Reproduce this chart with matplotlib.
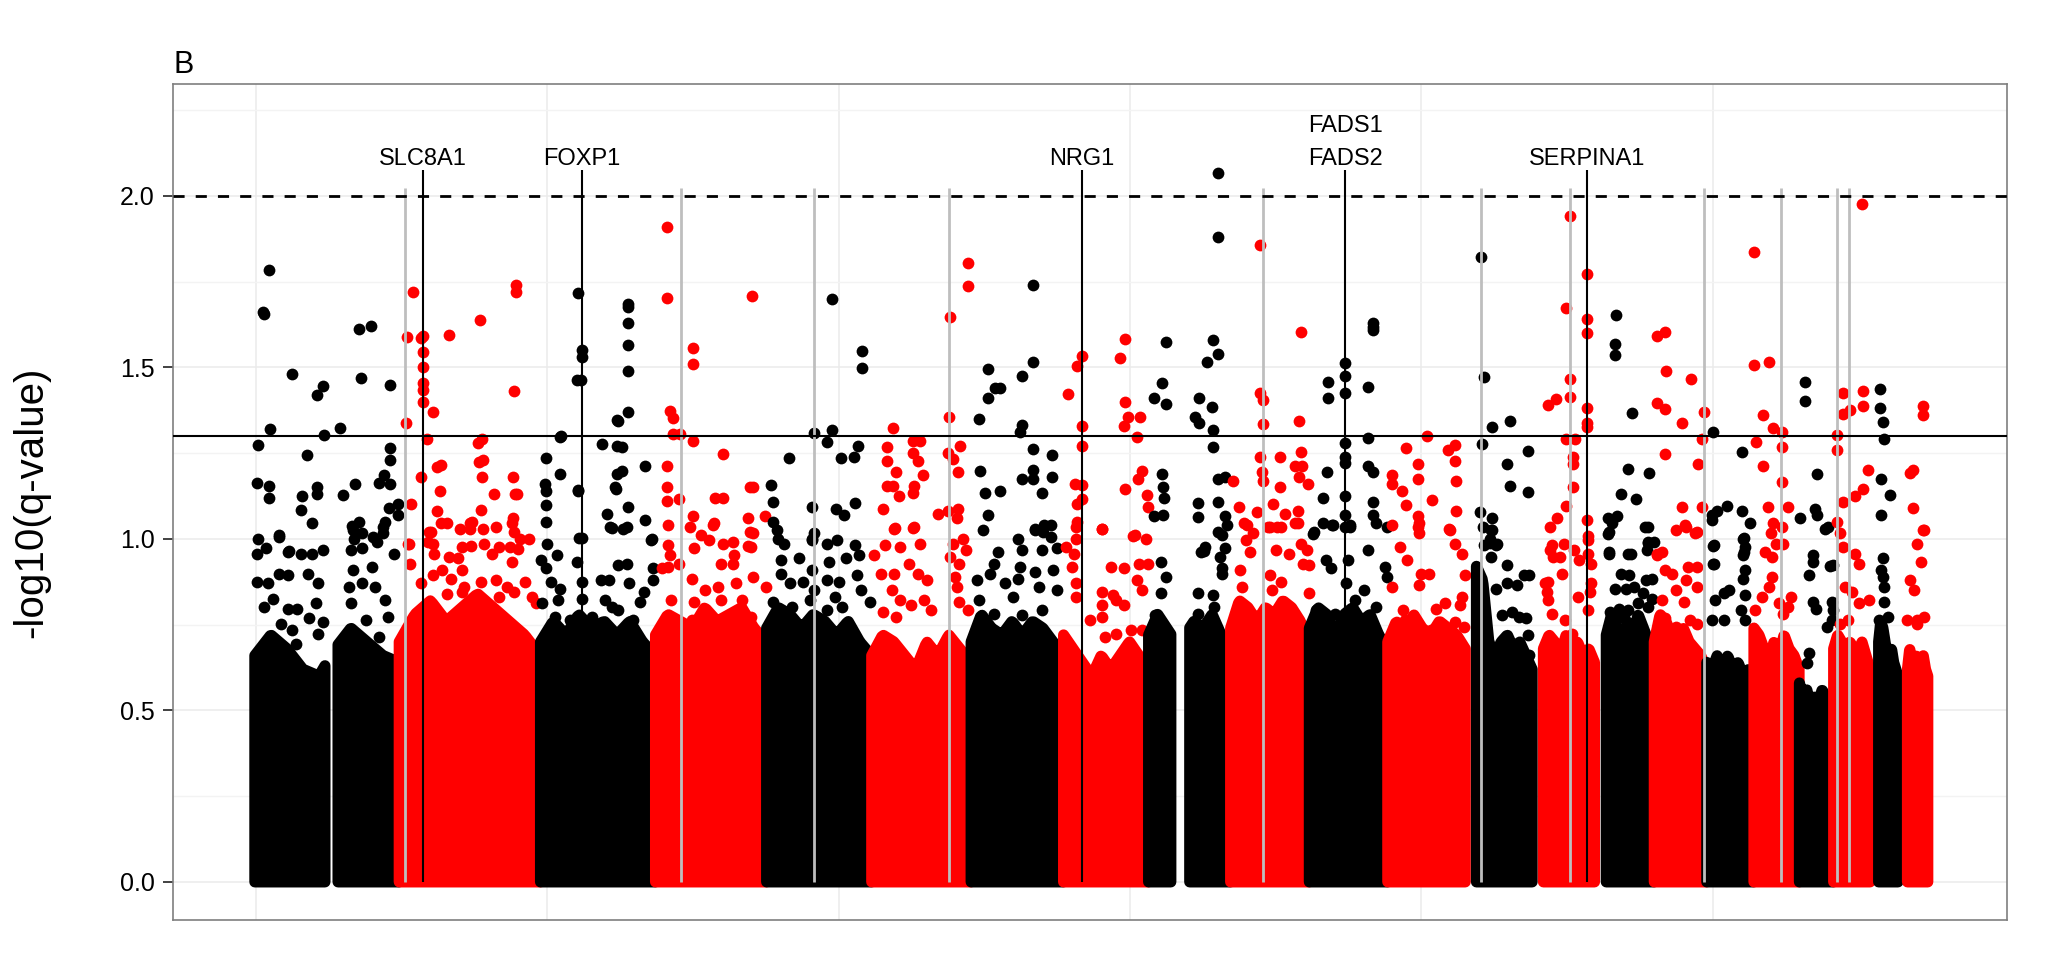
import numpy as np
import matplotlib
matplotlib.use("Agg")
import matplotlib.pyplot as plt

plt.rcParams['font.family'] = ['Liberation Sans', 'DejaVu Sans']

# chromosome lengths (Mb) and first SNP position
chrom_len = [249.25, 243.20, 198.02, 191.15, 180.92, 171.12, 159.14, 146.36, 141.21, 135.53, 135.01,
             133.85, 115.17, 107.35, 102.53, 90.35, 81.20, 78.08, 59.13, 63.03, 48.13, 51.30]
first_snp = [0.8, 0.1, 0.1, 0.1, 0.2, 0.2, 0.2, 0.2, 0.2, 0.2, 0.2,
             0.2, 19.0, 19.1, 20.0, 0.1, 0.1, 0.1, 0.3, 0.1, 14.5, 16.0]
gap_chrom = [1, 9]
gap_from = [121.5, 38.5]
gap_to = [144.0, 71.0]

# height of the dense bulk of points along each chromosome
core_1 = [0.66, 0.72, 0.68, 0.62, 0.60, 0.68, 0.74, 0.70, 0.66, 0.64]
core_2 = [0.70, 0.78, 0.82, 0.76, 0.80, 0.84, 0.80, 0.76, 0.72, 0.66]
core_3 = [0.70, 0.76, 0.72, 0.78, 0.74, 0.76, 0.72, 0.76, 0.70, 0.66]
core_4 = [0.72, 0.78, 0.76, 0.74, 0.80, 0.76, 0.78, 0.80, 0.74, 0.70]
core_5 = [0.74, 0.80, 0.78, 0.74, 0.78, 0.76, 0.72, 0.76, 0.70, 0.66]
core_6 = [0.66, 0.72, 0.70, 0.66, 0.62, 0.70, 0.66, 0.72, 0.68, 0.64]
core_7 = [0.70, 0.78, 0.74, 0.72, 0.76, 0.72, 0.76, 0.74, 0.70, 0.66]
core_8 = [0.72, 0.68, 0.64, 0.60, 0.66, 0.62, 0.66, 0.70, 0.66, 0.62]
core_9 = [0.72, 0.78, 0.74, 0.70, 0.72, 0.76, 0.74, 0.78, 0.72, 0.68]
core_10 = [0.74, 0.82, 0.80, 0.76, 0.80, 0.78, 0.82, 0.80, 0.76, 0.70]
core_11 = [0.74, 0.80, 0.78, 0.72, 0.78, 0.80, 0.76, 0.78, 0.72, 0.68]
core_12 = [0.70, 0.76, 0.72, 0.78, 0.74, 0.72, 0.76, 0.74, 0.72, 0.68]
core_13 = [0.92, 0.88, 0.70, 0.66, 0.70, 0.72, 0.68, 0.70, 0.66, 0.62]
core_14 = [0.68, 0.72, 0.70, 0.66, 0.72, 0.68, 0.70, 0.66, 0.68, 0.64]
core_15 = [0.72, 0.78, 0.74, 0.70, 0.76, 0.72, 0.78, 0.74, 0.70, 0.66]
core_16 = [0.70, 0.78, 0.76, 0.72, 0.68, 0.74, 0.70, 0.68, 0.66, 0.62]
core_17 = [0.64, 0.62, 0.66, 0.60, 0.66, 0.62, 0.64, 0.60, 0.62, 0.60]
core_18 = [0.74, 0.72, 0.68, 0.64, 0.70, 0.66, 0.72, 0.68, 0.66, 0.62]
core_19 = [0.58, 0.54, 0.56, 0.50, 0.54, 0.52, 0.56, 0.54, 0.52, 0.50]
core_20 = [0.68, 0.72, 0.70, 0.66, 0.70, 0.68, 0.66, 0.70, 0.66, 0.62]
core_21 = [0.70, 0.76, 0.74, 0.70, 0.66, 0.64, 0.68, 0.64, 0.62, 0.60]
core_22 = [0.62, 0.68, 0.64, 0.60, 0.66, 0.62, 0.60, 0.66, 0.62, 0.60]

# individual points above the bulk: (position in Mb, -log10 q)
chr1_dots = [(25.1, 1.785), (15.3, 1.662), (16.5, 1.655), (180.6, 1.613), (200.2, 1.621), (65.3, 1.482),
             (107.8, 1.419), (118.6, 1.446), (183.5, 1.470), (233.4, 1.450), (26.9, 1.319), (120.5, 1.304),
             (147.4, 1.322), (6.7, 1.273), (91, 1.244), (233, 1.265), (233, 1.23), (223, 1.186), (4, 1.163),
             (25.6, 1.154), (25, 1.118), (82.5, 1.125), (80, 1.084), (108, 1.152), (108, 1.13), (152, 1.127),
             (173, 1.161), (214, 1.164), (234, 1.16), (248, 1.103), (248, 1.07), (100, 1.046), (41.8, 1.006),
             (6.3, 1.0), (59.6, 0.965), (167.5, 1.037), (180, 1.05), (172, 1.0), (204.7, 1.006), (225, 1.05),
             (232, 1.09), (42, 1.011), (19.8, 0.972), (3.9, 0.957), (58, 0.962), (80.4, 0.957), (99.5, 0.957),
             (118, 0.967), (42, 0.899), (58, 0.894), (93, 0.899), (3.9, 0.875), (23, 0.87), (109, 0.87),
             (32.6, 0.826), (16.6, 0.802), (58, 0.797), (74, 0.797), (105.9, 0.812), (118.7, 0.758),
             (45, 0.753), (64.5, 0.734), (93.2, 0.768), (169.7, 1.025), (185.6, 1.016), (166.5, 0.967),
             (185.6, 0.972), (211, 0.991), (220.7, 1.016), (220.7, 1.035), (169.7, 0.909), (201.7, 0.918),
             (185.6, 0.87), (239.8, 0.957), (163.3, 0.86), (207.9, 0.86), (166.5, 0.812), (224, 0.821),
             (192, 0.763), (230, 0.773), (214, 0.714), (160, 0.685), (233, 0.646), (70.8, 0.695), (109, 0.724)]
chr2_dots = [(23.3, 1.72), (40.5, 1.59), (40.5, 1.545), (40.5, 1.50), (40.5, 1.453), (40.5, 1.434),
             (40.5, 1.40), (14, 1.589), (38.1, 1.586), (85.7, 1.593), (138.6, 1.638), (201, 1.74), (201, 1.72),
             (11.2, 1.339), (58.7, 1.369), (198.2, 1.431), (48.4, 1.29), (135.2, 1.28), (143, 1.29),
             (65.6, 1.21), (71.6, 1.215), (137, 1.225), (144.5, 1.23), (196.5, 1.18), (143, 1.18),
             (163, 1.132), (37, 1.18), (20.3, 1.101), (71, 1.14), (65.6, 1.08), (140.5, 1.085), (200, 1.13),
             (203, 1.13), (126, 1.05), (71.6, 1.045), (122, 1.03), (52, 1.02), (145, 1.03), (196, 1.06),
             (197, 1.02), (208, 1.0), (204, 0.97), (50, 0.99), (16, 0.985), (123, 0.98), (16.1, 0.986),
             (54.3, 1.02), (57.5, 0.986), (83, 1.045), (105.3, 1.03), (121.3, 1.045), (165.9, 1.035),
             (194.6, 1.045), (60.7, 0.957), (86.2, 0.948), (108.5, 0.977), (146.8, 0.986), (172.3, 0.977),
             (159.5, 0.957), (191.4, 0.977), (223.3, 1.0), (194.6, 0.933), (73.4, 0.909), (108.5, 0.909),
             (102.1, 0.943), (19.2, 0.928), (57.5, 0.894), (89.4, 0.884), (111.7, 0.86), (140.4, 0.875),
             (165.9, 0.879), (185, 0.86), (216.9, 0.875), (38.4, 0.87), (83, 0.84), (108.5, 0.845),
             (137, 0.816), (172, 0.831), (197, 0.845), (229, 0.831), (57.5, 0.792), (235.6, 0.812)]
chr3_dots = [(65.3, 1.717), (71.3, 1.55), (71.3, 1.53), (63.5, 1.462), (151.2, 1.686), (151.2, 1.675),
             (151.2, 1.628), (151.2, 1.566), (151.2, 1.488), (151.2, 1.37), (134.1, 1.345), (36, 1.30),
             (105.4, 1.277), (140, 1.267), (140.5, 1.198), (180, 1.212), (130, 1.146), (114.5, 1.073),
             (151.2, 1.094), (180, 1.056), (122.5, 1.032), (142.5, 1.03), (191.5, 1.0), (65.3, 1.139),
             (71.3, 1.004), (33.6, 1.297), (9.2, 1.237), (33.6, 1.19), (8, 1.16), (9, 1.14), (9, 1.10),
             (9, 1.05), (64.1, 1.142), (66, 1.003), (131.2, 1.346), (131.2, 1.27), (131.2, 1.19),
             (128, 1.15), (70.5, 1.463), (12, 0.986), (0.5, 0.938), (8.8, 0.914), (27.9, 0.953), (63, 0.933),
             (71.3, 0.875), (71.3, 0.826), (18.3, 0.875), (34.3, 0.855), (31, 0.821), (2.4, 0.812),
             (104.4, 0.879), (117.2, 0.879), (133, 0.923), (149, 0.928), (120.3, 1.035), (149, 1.035),
             (190.5, 0.996), (193.7, 0.914), (193.7, 0.879), (152, 0.87), (178, 0.845), (111, 0.821),
             (123.5, 0.802), (171.4, 0.816), (133, 0.792), (24.7, 0.773), (50.2, 0.763), (88.5, 0.773),
             (158.6, 0.763)]
chr4_dots = [(19.2, 1.909), (19.2, 1.703), (64, 1.555), (64, 1.509), (165.6, 1.709), (25, 1.373),
             (30, 1.352), (30, 1.306), (42, 1.306), (64, 1.285), (117, 1.246), (19, 1.212), (168, 1.15),
             (163, 1.15), (19, 1.15), (19, 1.11), (102, 1.12), (117, 1.12), (40, 1.115), (65, 1.066),
             (99, 1.04), (160, 1.06), (189, 1.066), (163, 1.02), (160, 0.98), (21.2, 1.04), (21.2, 0.982),
             (24.4, 0.952), (21.2, 0.918), (59.4, 1.035), (78.5, 1.011), (100.9, 1.045), (116.8, 0.986),
             (167.8, 1.016), (164.6, 0.977), (65.8, 0.972), (91.3, 0.996), (132.7, 0.991), (136, 0.952),
             (113.6, 0.928), (132.7, 0.928), (62.6, 0.884), (11.6, 0.914), (40.3, 0.928), (85, 0.85),
             (107.2, 0.86), (139, 0.87), (167.8, 0.889), (190.1, 0.86), (27.5, 0.821), (65.8, 0.816),
             (113.6, 0.821), (148.6, 0.821), (62.6, 0.763), (101, 0.763), (164.6, 0.773)]
chr5_dots = [(112.1, 1.698), (164, 1.548), (164, 1.498), (82, 1.309), (112, 1.316), (104, 1.282),
             (39.2, 1.236), (128, 1.236), (157, 1.27), (150, 1.24), (7.1, 1.157), (11, 1.108), (79, 1.092),
             (119, 1.087), (134, 1.07), (153, 1.106), (11, 1.05), (19, 1.0), (78, 1.0), (24.5, 0.938),
             (56.4, 0.943), (30.9, 0.986), (18.1, 1.025), (78.7, 0.996), (81.9, 1.016), (24.5, 0.899),
             (40.4, 0.87), (62.7, 0.875), (78.7, 0.909), (81.9, 0.85), (11.7, 0.816), (43.6, 0.802),
             (75.5, 0.821), (104.9, 0.986), (120.8, 0.996), (108, 0.933), (136.7, 0.943), (159, 0.952),
             (152.7, 0.982), (104.9, 0.879), (124, 0.875), (155.9, 0.894), (162.2, 0.85), (117.6, 0.831),
             (178.2, 0.816), (104.9, 0.792), (130.4, 0.802)]
chr6_dots = [(166.5, 1.805), (166.5, 1.736), (134.9, 1.647), (133.8, 1.355), (36.2, 1.323), (27, 1.269),
             (27, 1.228), (71.8, 1.285), (83.3, 1.285), (71.8, 1.25), (80.4, 1.228), (89, 1.186), (132, 1.25),
             (140.6, 1.233), (152.1, 1.27), (149.2, 1.196), (41.9, 1.196), (25.9, 1.155), (37.4, 1.155),
             (47.7, 1.124), (71.8, 1.134), (72.9, 1.155), (19, 1.087), (114.8, 1.072), (132, 1.082),
             (146.4, 1.061), (149.2, 1.087), (40.2, 1.032), (71.8, 1.032), (38.7, 1.03), (73.7, 1.035),
             (22.7, 0.982), (48.2, 0.977), (83.3, 0.986), (3.6, 0.952), (64.2, 0.928), (80.1, 0.899),
             (96.1, 0.879), (16.4, 0.899), (38.7, 0.899), (35.5, 0.85), (48.2, 0.821), (67.4, 0.807),
             (89.7, 0.821), (102.4, 0.792), (19.5, 0.787), (41.9, 0.773), (140.7, 0.986), (156.6, 1.0),
             (163, 0.967), (134.3, 0.948), (150.2, 0.928), (143.9, 0.889), (147, 0.86), (150.2, 0.816),
             (166.2, 0.792)]
chr7_dots = [(28.6, 1.495), (41.2, 1.441), (28.6, 1.412), (14.3, 1.35), (15.4, 1.197), (24, 1.134),
             (28.6, 1.071), (107.2, 1.741), (107.2, 1.516), (87.1, 1.475), (49.8, 1.441), (87.1, 1.332),
             (84.3, 1.311), (107.2, 1.261), (138.8, 1.245), (107.2, 1.2), (87.1, 1.176), (107.2, 1.176),
             (138.8, 1.181), (121.6, 1.134), (49.8, 1.139), (110, 1.025), (124.4, 1.02), (137, 1.04),
             (20.6, 1.025), (46.1, 0.962), (39.7, 0.928), (81.2, 1.0), (87.5, 0.967), (84.3, 0.918),
             (109.8, 1.03), (125.8, 1.04), (138.5, 1.006), (122.6, 0.967), (148.1, 0.972), (11, 0.879),
             (33.3, 0.899), (58.8, 0.87), (109.8, 0.904), (141.7, 0.909), (81.2, 0.884), (14.2, 0.821),
             (71.6, 0.831), (116.2, 0.86), (148.1, 0.85), (39.7, 0.782), (87.5, 0.777), (122.6, 0.792)]
chr8_dots = [(105.9, 1.584), (97.3, 1.527), (32.0, 1.533), (22.7, 1.503), (8.3, 1.422), (105.9, 1.399),
             (111.6, 1.355), (131.7, 1.356), (104.1, 1.33), (32.0, 1.329), (32.0, 1.271), (127.1, 1.298),
             (19.8, 1.16), (32.0, 1.157), (134.6, 1.197), (128.8, 1.176), (105.9, 1.144), (143.2, 1.129),
             (146, 1.092), (22.7, 1.103), (32.0, 1.115), (65.7, 1.03), (22.7, 1.05), (120.2, 1.009),
             (20.8, 1.035), (20.8, 1.0), (4.9, 0.977), (65.5, 1.03), (122.9, 1.011), (142, 1.0), (81.4, 0.918),
             (103.7, 0.914), (129.2, 0.928), (145.2, 0.928), (17.7, 0.957), (14.5, 0.918), (20.8, 0.87),
             (20.8, 0.831), (65.5, 0.845), (84.6, 0.836), (103.7, 0.807), (126, 0.879), (135.6, 0.85),
             (65.5, 0.807), (91, 0.821), (46.4, 0.763), (65.5, 0.773), (71.9, 0.714), (91, 0.724),
             (116.5, 0.734), (135.6, 0.734), (116.5, 0.666)]
chr9_dots = [(120.2, 2.066), (120.2, 1.881), (29.5, 1.574), (110.4, 1.579), (120.2, 1.54), (100.1, 1.516),
             (23.8, 1.454), (9.4, 1.412), (29.5, 1.392), (86.9, 1.41), (109.9, 1.384), (80, 1.356),
             (86.9, 1.337), (110.4, 1.316), (110.4, 1.267), (120.2, 1.176), (131.6, 1.181), (23.8, 1.188),
             (25.5, 1.15), (26.6, 1.118), (9.4, 1.066), (25.5, 1.071), (85.8, 1.105), (85.8, 1.063),
             (120.2, 1.108), (131.6, 1.066), (120.2, 1.019), (131.6, 0.972), (95.5, 0.965), (21.1, 0.933),
             (30.7, 0.889), (84.9, 0.841), (97.6, 0.977), (91.2, 0.962), (126.3, 1.011), (135.9, 1.04),
             (123, 0.948), (126, 0.914), (126, 0.899), (110.4, 0.836), (113.6, 0.802), (84.9, 0.782),
             (21.1, 0.841), (11.6, 0.777)]
chr10_dots = [(50.7, 1.857), (121.3, 1.602), (50.7, 1.425), (56.4, 1.404), (56.4, 1.335), (118.4, 1.345),
              (50.7, 1.238), (53.6, 1.196), (56.4, 1.17), (85.1, 1.238), (121.3, 1.254), (111, 1.212),
              (122.4, 1.212), (117.8, 1.181), (133.9, 1.16), (4.8, 1.17), (15.1, 1.092), (27.7, 1.04),
              (85.1, 1.15), (73.6, 1.103), (93.7, 1.072), (116.7, 1.082), (111, 1.045), (45, 1.077),
              (65, 1.035), (79.4, 1.035), (23.4, 1.045), (39.3, 1.016), (68, 1.035), (87.1, 1.035),
              (115.8, 1.045), (26.6, 0.996), (33, 0.962), (77.6, 0.967), (99.9, 0.957), (122.2, 0.986),
              (131.8, 0.967), (17, 0.909), (68, 0.894), (87.1, 0.875), (125.4, 0.928), (135, 0.923),
              (20.2, 0.86), (17, 0.812), (39.3, 0.777), (71.2, 0.85), (90.3, 0.807), (134.9, 0.841),
              (64.8, 0.773), (109.5, 0.782)]
chr11_dots = [(61.6, 1.514), (61.6, 1.475), (61.6, 1.425), (61.6, 1.28), (61.6, 1.238), (61.6, 1.222),
              (61.6, 1.124), (61.6, 1.07), (61.6, 1.035), (32.8, 1.457), (32.8, 1.41), (109.1, 1.628),
              (109.1, 1.608), (109.1, 1.618), (101.6, 1.443), (101.6, 1.295), (29.9, 1.196), (101.6, 1.212),
              (109.1, 1.196), (24.2, 1.118), (109.1, 1.108), (109.1, 1.071), (7, 1.014), (24.2, 1.045),
              (38.5, 1.04), (70, 1.035), (9, 1.02), (40.9, 1.04), (69.6, 1.04), (114.2, 1.045), (133.3, 1.035),
              (28.1, 0.938), (37.7, 0.914), (66.4, 0.938), (63.2, 0.87), (95, 0.85), (133.3, 0.889),
              (101.5, 0.967), (130, 0.918), (79.1, 0.821), (114.2, 0.802), (12.2, 0.792), (44, 0.782)]
chr12_dots = [(67, 1.3), (31.5, 1.264), (52.7, 1.219), (52.7, 1.176), (6.8, 1.186), (6.8, 1.16), (24, 1.139),
              (75.7, 1.113), (31.5, 1.098), (6.8, 1.04), (52.7, 1.066), (52.7, 1.035), (115.9, 1.275),
              (115.9, 1.228), (117.6, 1.17), (117.6, 1.082), (104.4, 1.259), (106.2, 1.03), (7.9, 0.86),
              (53.9, 1.045), (53.9, 1.016), (107.3, 1.025), (21.2, 0.977), (33.1, 0.938), (116.2, 0.986),
              (128, 0.957), (56.8, 0.899), (71.7, 0.899), (53.9, 0.865), (133, 0.894), (128, 0.831),
              (125, 0.807), (83.5, 0.797), (98.4, 0.812), (27.1, 0.792), (30.1, 0.763), (116.2, 0.758),
              (131, 0.743), (56.8, 0.724), (74.6, 0.734)]
chr13_dots = [(26.2, 1.821), (32, 1.472), (45.2, 1.326), (76.7, 1.345), (28, 1.277), (107.1, 1.257),
              (71, 1.219), (76.7, 1.153), (107.1, 1.137), (25.1, 1.079), (45.2, 1.061), (45.2, 1.025),
              (42.3, 0.988), (53.8, 0.985), (44.6, 1.025), (41.7, 1.0), (53.5, 0.982), (44.6, 0.948),
              (71.4, 0.923), (29.8, 1.035), (32.8, 0.982), (101, 0.894), (110, 0.894), (89.2, 0.865),
              (71.4, 0.87), (53.5, 0.855), (62.4, 0.777), (80.3, 0.787), (92.1, 0.773), (104, 0.768),
              (107, 0.719), (65.4, 0.685), (77.3, 0.67), (110, 0.661)]
chr14_dots = [(94.8, 1.771), (94.8, 1.642), (94.8, 1.6), (94.8, 1.382), (94.8, 1.337), (94.8, 1.326),
              (64.9, 1.941), (58, 1.673), (64.9, 1.467), (64.9, 1.415), (27.6, 1.389), (40.2, 1.407),
              (58, 1.29), (73.5, 1.29), (70.6, 1.238), (70.6, 1.217), (69.4, 1.15), (58, 1.097), (41.9, 1.061),
              (30.4, 1.035), (94.8, 1.056), (96.4, 1.009), (33.4, 0.982), (30.4, 0.967), (36.3, 0.948),
              (54.1, 0.986), (48.2, 0.948), (51.2, 0.899), (72, 0.967), (80.8, 0.938), (27.4, 0.875),
              (27.4, 0.821), (33.4, 0.782), (21.5, 0.87), (24.5, 0.845), (77.9, 0.831), (95.7, 0.792),
              (57.1, 0.763), (69, 0.724), (95.7, 0.996), (95.7, 0.957), (101.6, 0.928), (101.6, 0.87),
              (98.6, 0.845)]
chr15_dots = [(36.1, 1.654), (35, 1.568), (35, 1.537), (63.6, 1.366), (56.8, 1.204), (93.5, 1.193),
              (45.3, 1.131), (70.5, 1.115), (23.5, 1.061), (37.8, 1.066), (23.5, 1.014), (25.2, 0.962),
              (61.9, 0.957), (86.6, 1.035), (92.3, 0.988), (89.5, 0.967), (24, 1.02), (24, 0.957),
              (29.9, 1.045), (56.6, 0.957), (92.2, 1.035), (92.2, 0.991), (101.5, 0.991), (44.7, 0.899),
              (59.6, 0.894), (89.2, 0.879), (98.1, 0.884), (35.8, 0.855), (53.6, 0.855), (68.5, 0.86),
              (83.3, 0.841), (98.1, 0.826), (41.8, 0.797), (26.9, 0.787), (56.6, 0.792), (74.4, 0.812),
              (92.2, 0.802), (44.7, 0.773), (50.7, 0.773)]
chr16_dots = [(5.3, 1.592), (18.5, 1.602), (19.6, 1.488), (5.3, 1.396), (18.5, 1.378), (62.7, 1.467),
              (47.2, 1.337), (85.6, 1.37), (18.5, 1.248), (82.8, 1.292), (75.9, 1.219), (47.2, 1.092),
              (81.6, 1.092), (52.9, 1.04), (73, 1.019), (4.2, 0.952), (4.5, 0.957), (13.4, 0.962),
              (37.2, 1.025), (55, 1.035), (69.8, 1.016), (19.4, 0.909), (31.2, 0.899), (58, 0.918),
              (72.8, 0.918), (55, 0.879), (72.8, 0.86), (37.2, 0.85), (52, 0.816), (13.4, 0.821),
              (19.4, 0.768), (37.2, 0.743), (61, 0.763), (72.8, 0.753)]
chr17_dots = [(10.2, 1.313), (60.1, 1.254), (8.5, 1.071), (17.1, 1.082), (34.3, 1.097), (60.1, 1.082),
              (74.5, 1.045), (11.3, 0.978), (11.3, 0.926), (64.1, 1.004), (64.1, 0.962), (9.1, 1.055),
              (12, 0.982), (12, 0.928), (62.6, 1.0), (65.5, 0.977), (62.6, 0.952), (65.5, 0.909),
              (62.6, 0.884), (65.5, 0.836), (29.9, 0.841), (38.8, 0.85), (15, 0.821), (9.1, 0.763),
              (29.9, 0.763), (59.6, 0.792), (65.5, 0.763)]
chr18_dots = [(1.0, 1.837), (1.0, 1.507), (26, 1.516), (16.2, 1.36), (33.4, 1.323), (47.8, 1.313),
              (3.6, 1.282), (47.8, 1.267), (15.1, 1.212), (47.8, 1.167), (24.8, 1.092), (59.3, 1.092),
              (33.4, 1.045), (47.8, 1.035), (20, 0.962), (31.8, 0.948), (37.8, 0.986), (28.9, 1.016),
              (49.6, 0.986), (31.8, 0.889), (25.9, 0.86), (14, 0.831), (64.5, 0.831), (58.5, 0.802),
              (49.6, 0.782), (43.7, 0.812), (2.1, 0.792)]
chr19_dots = [(9.9, 1.457), (9.9, 1.402), (30, 1.188), (1.3, 1.061), (27.1, 1.087), (30, 1.071),
              (52.9, 0.92), (23.1, 0.952), (23.1, 0.933), (17.2, 0.894), (49.9, 1.035), (43.9, 1.03),
              (57.6, 0.923), (23.1, 0.816), (29.1, 0.797), (55.8, 0.816), (57.8, 0.792), (55.8, 0.763),
              (47.5, 0.743), (17.2, 0.666), (14.2, 0.637)]
chr20_dots = [(48.3, 1.975), (16.7, 1.425), (15.6, 1.365), (28.2, 1.375), (51.2, 1.43), (51.2, 1.386),
              (5.3, 1.303), (5.3, 1.259), (58.6, 1.202), (51.2, 1.144), (36.8, 1.124), (16.7, 1.108),
              (5.3, 1.05), (10.3, 1.016), (16.3, 0.977), (37, 0.957), (43, 0.928), (19.2, 0.86), (31.1, 0.845),
              (60.8, 0.821), (43, 0.812), (10.3, 0.753), (25.2, 0.763)]
chr21_dots = [(16.8, 1.438), (16.8, 1.381), (21.4, 1.34), (24.3, 1.292), (18.5, 1.176), (34, 1.129),
              (18.5, 1.071), (21.5, 0.943), (18.6, 0.909), (21.5, 0.889), (24.5, 0.86), (24.5, 0.816),
              (15.6, 0.763), (30.4, 0.773), (18.6, 0.685), (24.5, 0.666)]
chr22_dots = [(42.1, 1.387), (42.1, 1.361), (26, 1.202), (20.3, 1.191), (26, 1.089), (43.3, 1.027),
              (44.7, 1.025), (32.8, 0.986), (38.8, 0.933), (20.9, 0.879), (26.9, 0.85), (32.8, 0.763),
              (44.7, 0.773), (32.8, 0.753), (15, 0.763)]

# annotated genes (black lines) and other loci (grey lines)
gene_names = ['SLC8A1', 'FOXP1', 'NRG1', 'FADS1\nFADS2', 'SERPINA1']
gene_chrom = [2, 3, 8, 11, 14]
gene_pos = [40.5, 71.2, 32.0, 61.6, 94.8]
locus_chrom = [2, 4, 5, 6, 10, 13, 14, 16, 18, 20, 20]
locus_pos = [10.55, 43.4, 82.2, 132.7, 55.3, 26.2, 64.9, 86.2, 47.1, 5.3, 27.0]
q_threshold = 1.3
upper_threshold = 2.0

cores = [core_1, core_2, core_3, core_4, core_5, core_6, core_7, core_8, core_9, core_10, core_11,
         core_12, core_13, core_14, core_15, core_16, core_17, core_18, core_19, core_20, core_21, core_22]
dots = [chr1_dots, chr2_dots, chr3_dots, chr4_dots, chr5_dots, chr6_dots, chr7_dots, chr8_dots,
        chr9_dots, chr10_dots, chr11_dots, chr12_dots, chr13_dots, chr14_dots, chr15_dots, chr16_dots,
        chr17_dots, chr18_dots, chr19_dots, chr20_dots, chr21_dots, chr22_dots]

offset = np.concatenate([[0.0], np.cumsum(chrom_len)[:-1]])

fig = plt.figure(figsize=(20.48, 9.6), dpi=100)
ax = fig.add_axes([173 / 2048, 1 - 920 / 960, (2007 - 173) / 2048, (920 - 84) / 960])

for i in range(22):
    col = 'black' if i % 2 == 0 else '#FF0000'
    start, end = first_snp[i], chrom_len[i] - 0.3
    prof = np.array(cores[i])
    prof_x = np.linspace(start, end, len(prof))
    segs = [(start, end)]
    if (i + 1) in gap_chrom:
        g = gap_chrom.index(i + 1)
        segs = [(start, gap_from[g]), (gap_to[g], end)]
    for a, b in segs:
        xs = np.linspace(a, b, 60)
        hs = np.interp(xs, prof_x, prof)
        px = np.concatenate([[a], xs, [b]]) + offset[i]
        py = np.concatenate([[0.0], hs, [0.0]])
        ax.fill(px, py, facecolor=col, edgecolor=col, linewidth=8.0, joinstyle='round', zorder=2)
    d = np.array(dots[i])
    ax.scatter(d[:, 0] + offset[i], d[:, 1], s=72, color=col, linewidths=0, zorder=2)

ax.axhline(upper_threshold, color='black', lw=2.0, dashes=(4, 4), zorder=4)
ax.axhline(q_threshold, color='black', lw=1.5, zorder=4)

locus_x = [offset[c - 1] + p for c, p in zip(locus_chrom, locus_pos)]
ax.vlines(locus_x, 0, 2.024, color='#BEBEBE', lw=2.0, zorder=3)

gene_x = [offset[c - 1] + p for c, p in zip(gene_chrom, gene_pos)]
ax.vlines(gene_x, 0, 2.075, color='black', lw=1.5, zorder=4)
for gx, name in zip(gene_x, gene_names):
    lines = name.split('\n')[::-1]
    for k, txt in enumerate(lines):
        ax.text(gx, 2.089 + k * 0.096, txt, ha='center', va='baseline', fontsize=17, zorder=5)

ax.set_xlim(-140.1, 3017.1)
ax.set_ylim(-0.111, 2.326)

ax.set_yticks([0, 0.5, 1.0, 1.5, 2.0])
ax.set_yticklabels(['0.0', '0.5', '1.0', '1.5', '2.0'])
ax.set_yticks([0.25, 0.75, 1.25, 1.75, 2.25], minor=True)
ax.set_xticks([2.75, 504.25, 1005.75, 1507.25, 2008.75, 2510.25])
ax.tick_params(axis='x', which='both', bottom=False, labelbottom=False)
ax.tick_params(axis='y', which='major', length=7, width=1.3, color='#333333', labelsize=18, pad=6)
ax.tick_params(axis='y', which='minor', length=0)
ax.grid(True, which='major', color='#EBEBEB', lw=1.1, zorder=0)
ax.grid(True, which='minor', axis='y', color='#F3F3F3', lw=1.0, zorder=0)
ax.set_axisbelow(True)
for sp in ax.spines.values():
    sp.set_color('#7F7F7F')
    sp.set_linewidth(1.2)

ax.set_ylabel('-log10(q-value)', fontsize=29)
ax.yaxis.set_label_coords(-0.067, 0.5)
ax.set_title('B', loc='left', fontsize=22, pad=8)

fig.savefig('out.png', dpi=100)
